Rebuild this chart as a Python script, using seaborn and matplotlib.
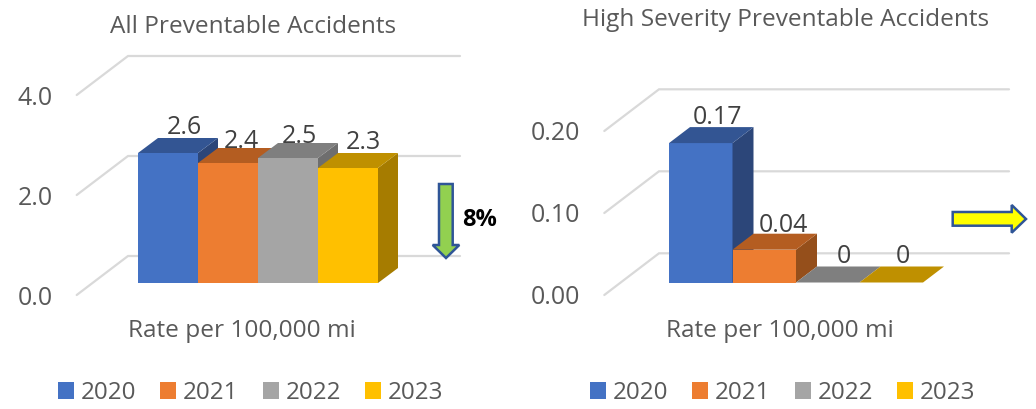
import matplotlib
matplotlib.use("Agg")
import matplotlib.pyplot as plt
import seaborn as sns
import pandas as pd
from matplotlib.patches import Polygon, Patch
from matplotlib.transforms import Affine2D, ScaledTranslation, IdentityTransform

years = ["2020", "2021", "2022", "2023"]
all_rates = [2.6, 2.4, 2.5, 2.3]
high_rates = [0.17, 0.04, 0, 0]
all_labels = ["2.6", "2.4", "2.5", "2.3"]
high_labels = ["0.17", "0.04", "0", "0"]
all_ticks = [0, 2, 4]
all_ticklabels = ["0.0", "2.0", "4.0"]
high_ticks = [0, 0.1, 0.2]
high_ticklabels = ["0.00", "0.10", "0.20"]
front_colors = ["#4472C4", "#ED7D31", "#A5A5A5", "#FFC000"]
top_colors = ["#335593", "#B45D21", "#7F7F7F", "#BF9000"]
side_colors = ["#2C4679", "#954F1B", "#6E6E6E", "#A67C00"]

W, H = 1036, 409
sns.set_theme(style="white")
plt.rcParams["font.family"] = ["Open Sans", "DejaVu Sans"]
fig = plt.figure(figsize=(W / 100, H / 100), dpi=100)
px = Affine2D().scale(1, -1).translate(0, H)


def panel(rates, labels, ticks, ticklabels, title, box, depth, grid, nudges, spec):
    left, right, base, top = box
    ax = fig.add_axes([left / W, (H - base) / H, (right - left) / W, (base - top) / H])
    df = pd.DataFrame({"year": years, "rate": rates})
    sns.barplot(data=df, x="year", y="rate", hue="year", palette=front_colors,
                width=1, dodge=False, legend=False, saturation=1, ax=ax)
    ax.set_xlim(-0.5, 3.5)
    ax.set_ylim(ticks[0], ticks[-1])
    sx = (right - left) / 4
    sy = (base - top) / ticks[-1]
    ddx, ddy = depth[0] / sx, depth[1] / sy
    # gridlines on the back wall and the left wall
    gl, gr, gf, back, front = grid
    for t in ticks:
        y_back = t + (base - back) / sy
        y_front = t + (base - front) / sy
        x_vals = [(gf - left) / sx - 0.5, (gl - left) / sx - 0.5, (gr - left) / sx - 0.5]
        ax.plot(x_vals, [y_front, y_back, y_back], color="#D9D9D9", lw=1.6,
                clip_on=False, zorder=0, solid_joinstyle="miter")
    # 3D faces
    for i, (v, bar) in enumerate(zip(rates, ax.patches)):
        bar.set_zorder(1 + 3 * i)
        bar.set_linewidth(0)
        bar.set_edgecolor("none")
        x0, x1 = i - 0.5, i + 0.5
        ax.add_patch(Polygon([(x1, 0), (x1 + ddx, ddy), (x1 + ddx, v + ddy), (x1, v)],
                             fc=side_colors[i], ec="none", zorder=2 + 3 * i, clip_on=False))
        ax.add_patch(Polygon([(x0, v), (x0 + ddx, v + ddy), (x1 + ddx, v + ddy), (x1, v)],
                             fc=top_colors[i], ec="none", zorder=3 + 3 * i, clip_on=False))
        ax.annotate(labels[i], (i, v), xytext=(nudges[i][0] * 0.72, nudges[i][1] * 0.72),
                    textcoords="offset points", ha="center", va="center_baseline",
                    fontsize=spec["data"], color="#404040", zorder=30, annotation_clip=False)
    ax.set_yticks(ticks)
    ax.set_yticklabels(ticklabels, fontsize=spec["tick"], color="#595959")
    ax.tick_params(axis="y", length=0, pad=spec["pad"])
    ax.tick_params(axis="x", bottom=False, labelbottom=False)
    off = ScaledTranslation(0, -spec["tick_dy"] / 100, fig.dpi_scale_trans)
    for lab in ax.get_yticklabels():
        lab.set_transform(lab.get_transform() + off)
    ax.set_ylabel("")
    ax.set_xlabel("Rate per 100,000 mi", fontsize=spec["xl"], color="#595959", va="center")
    ax.xaxis.set_label_coords((spec["xl_x"] - left) / (right - left), (base - spec["xl_y"]) / (base - top))
    ax.set_title(title, fontsize=spec["title"], color="#595959", va="center", pad=0,
                 x=(spec["t_x"] - left) / (right - left), y=(base - spec["t_y"]) / (base - top))
    sns.despine(ax=ax, left=True, bottom=True)
    ax.patch.set_alpha(0)
    handles = [Patch(fc=c, ec="none", label=y) for c, y in zip(front_colors, years)]
    ax.legend(handles=handles, ncol=4, frameon=False, loc="center left",
              bbox_to_anchor=(spec["leg_x"], H - spec["leg_y"]), bbox_transform=IdentityTransform(),
              fontsize=spec["leg"], labelcolor="#595959", borderpad=0, borderaxespad=0,
              handlelength=0.66, handleheight=0.66, handletextpad=0.28, columnspacing=1.0)
    return ax


panel(all_rates, all_labels, all_ticks, all_ticklabels, "All Preventable Accidents",
      (138, 378, 283, 83), (20, 15), (128, 460, 76.7, 256, 295),
      [(16, 28.7), (13.3, 25), (11, 24.7), (15, 28.7)],
      dict(data=18, tick=17.9, pad=61.5, tick_dy=12.3, xl=17.6, xl_x=242, xl_y=331,
           title=17.6, t_x=253, t_y=27, leg=17.4, leg_x=58, leg_y=393))
panel(high_rates, high_labels, high_ticks, high_ticklabels, "High Severity Preventable Accidents",
      (669, 923, 282.5, 118.5), (21, 16), (659, 1009, 604.3, 253.3, 295),
      [(17, 28.7), (18.7, 27.6), (16, 29), (12, 29)],
      dict(data=18, tick=17.9, pad=64, tick_dy=12.5, xl=17.6, xl_x=780, xl_y=331,
           title=17.6, t_x=786, t_y=20, leg=17.4, leg_x=590, leg_y=393))

# callout arrows
down = [(439, 184), (452.7, 184), (452.7, 245), (459.3, 245), (446, 258), (432.7, 245), (439, 245)]
fig.add_artist(Polygon(down, closed=True, fc="#92D050", ec="#2F5597", lw=1.8, transform=px))
arrow = [(952.7, 212), (1011.7, 212), (1011.7, 205), (1026, 219), (1011.7, 232.7), (1011.7, 225.7), (952.7, 225.7)]
fig.add_artist(Polygon(arrow, closed=True, fc="#FFFF00", ec="#2F5597", lw=1.8, transform=px))
fig.text(462 / W, (H - 220) / H, "8%", fontsize=17, fontweight="bold", color="black", va="center", ha="left")

fig.savefig("out.png", dpi=100)
